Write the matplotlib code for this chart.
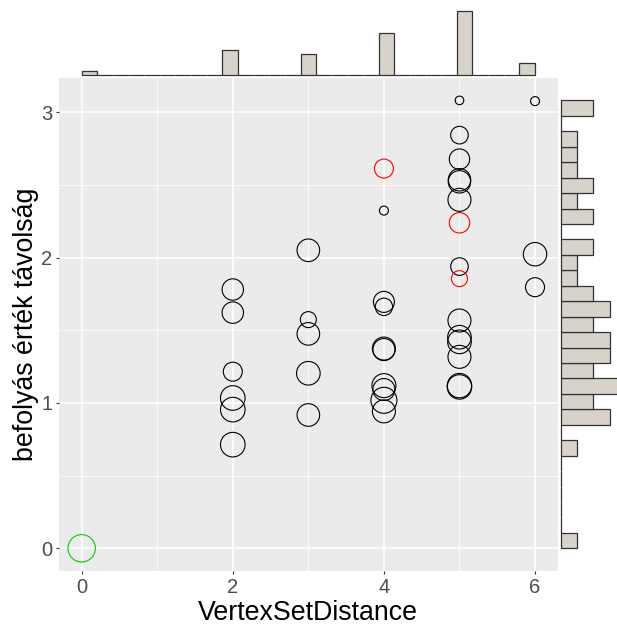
import numpy as np
import matplotlib
matplotlib.use("Agg")
import matplotlib.pyplot as plt

plt.rcParams['font.family'] = ['Liberation Sans', 'DejaVu Sans']

# ---- data ----
vertex_dist = [0,
               2, 2, 2, 2, 2, 2,
               3, 3, 3, 3, 3,
               4, 4, 4, 4, 4, 4, 4, 4, 4, 4,
               5, 5, 5, 5, 5, 5, 5, 5, 5, 5, 5, 5, 5, 5, 5,
               6, 6, 6]
influence_dist = [0.0,
                  1.780, 1.621, 1.215, 1.034, 0.954, 0.713,
                  2.050, 1.573, 1.475, 1.204, 0.917,
                  2.612, 2.323, 1.695, 1.661, 1.374, 1.367, 1.119, 1.092, 1.018, 0.942,
                  3.081, 2.842, 2.677, 2.535, 2.521, 2.397, 2.239, 1.938, 1.855, 1.567,
                  1.452, 1.420, 1.317, 1.119, 1.110,
                  3.076, 2.023, 1.796]
# size aesthetic (circle radius in px as read)
point_size = [13.7,
              10.7, 10.7, 9.5, 12.3, 12.3, 12.3,
              11.3, 8.0, 11.3, 11.8, 11.3,
              9.5, 4.5, 10.5, 8.7, 11.5, 11.0, 12.0, 11.0, 13.0, 11.5,
              4.3, 8.8, 10.2, 11.2, 11.2, 11.5, 10.2, 8.8, 8.0, 11.5,
              11.8, 11.8, 11.5, 12.2, 12.2,
              4.5, 11.7, 9.5]
group = ['g',
         'k', 'k', 'k', 'k', 'k', 'k',
         'k', 'k', 'k', 'k', 'k',
         'r', 'k', 'k', 'k', 'k', 'k', 'k', 'k', 'k', 'k',
         'k', 'k', 'k', 'k', 'k', 'k', 'r', 'k', 'r', 'k',
         'k', 'k', 'k', 'k', 'k',
         'k', 'k', 'k']
group_colors = {'k': '#000000', 'r': '#FF0000', 'g': '#00CD00'}

x_ticks = [0, 2, 4, 6]
y_ticks = [0, 1, 2, 3]
x_label = "VertexSetDistance"
y_label = "befolyás érték távolság"

x = np.array(vertex_dist, float)
y = np.array(influence_dist, float)

W, H = 617, 625
DPI = 100
fig = plt.figure(figsize=(W / DPI, H / DPI), dpi=DPI)


def rect(l, t, r, b):
    return [l / W, 1 - b / H, (r - l) / W, (b - t) / H]


# main panel
P_L, P_T, P_R, P_B = 59, 78, 557.7, 570.7
ax = fig.add_axes(rect(P_L, P_T, P_R, P_B))
ax.set_facecolor('#EBEBEB')
xr = x.max() - x.min()
yr = y.max() - y.min()
ax.set_xlim(x.min() - 0.05 * xr, x.max() + 0.05 * xr)
ax.set_ylim(y.min() - 0.05 * yr, y.max() + 0.05 * yr)
ax.set_xticks(x_ticks)
ax.set_yticks(y_ticks)
ax.set_xticks([1, 3, 5], minor=True)
ax.set_yticks([0.5, 1.5, 2.5], minor=True)
ax.grid(which='major', color='white', lw=1.1)
ax.grid(which='minor', color='white', lw=0.55)
ax.set_axisbelow(True)
for s in ax.spines.values():
    s.set_visible(False)
ax.tick_params(which='major', length=2.4, width=0.8, color='#333333',
               labelsize=14.5, labelcolor='#4D4D4D', pad=2.5)
ax.tick_params(which='minor', length=0)

px2pt = 72 / DPI
sizes = [(2 * r * px2pt) ** 2 for r in point_size]
cols = [group_colors[g] for g in group]
ax.scatter(x, y, s=sizes, facecolors='none', edgecolors=cols, linewidths=0.8, zorder=3)

fig.text((P_L + P_R) / 2 / W, 1 - 620 / H, x_label, ha='center', va='baseline',
         fontsize=19.3, color='black')
fig.text(26 / W, 1 - ((P_T + P_B) / 2) / H, y_label, ha='center', va='center',
         rotation=90, fontsize=19.3, color='black')

fill = '#D7D3CB'
edge = '#333333'

# top marginal histogram
xedges = np.linspace(x.min(), x.max(), 30)
xcounts, _ = np.histogram(x, bins=xedges)
axt = fig.add_axes(rect(P_L, 75.3 - 64.0, P_R, 75.3))
axt.set_xlim(ax.get_xlim())
axt.set_ylim(0, xcounts.max())
axt.bar(xedges[:-1], xcounts, width=np.diff(xedges), align='edge',
        color=fill, edgecolor=edge, linewidth=0.9, clip_on=False)
axt.axis('off')

# right marginal histogram
yedges = np.linspace(y.min(), y.max(), 30)
ycounts, _ = np.histogram(y, bins=yedges)
axr = fig.add_axes(rect(560.7, P_T, 560.7 + 65.2, P_B))
axr.set_ylim(ax.get_ylim())
axr.set_xlim(0, 4)
axr.barh(yedges[:-1], ycounts, height=np.diff(yedges), align='edge',
         color=fill, edgecolor=edge, linewidth=0.9, clip_on=False)
axr.axis('off')

fig.savefig('out.png', dpi=DPI)
